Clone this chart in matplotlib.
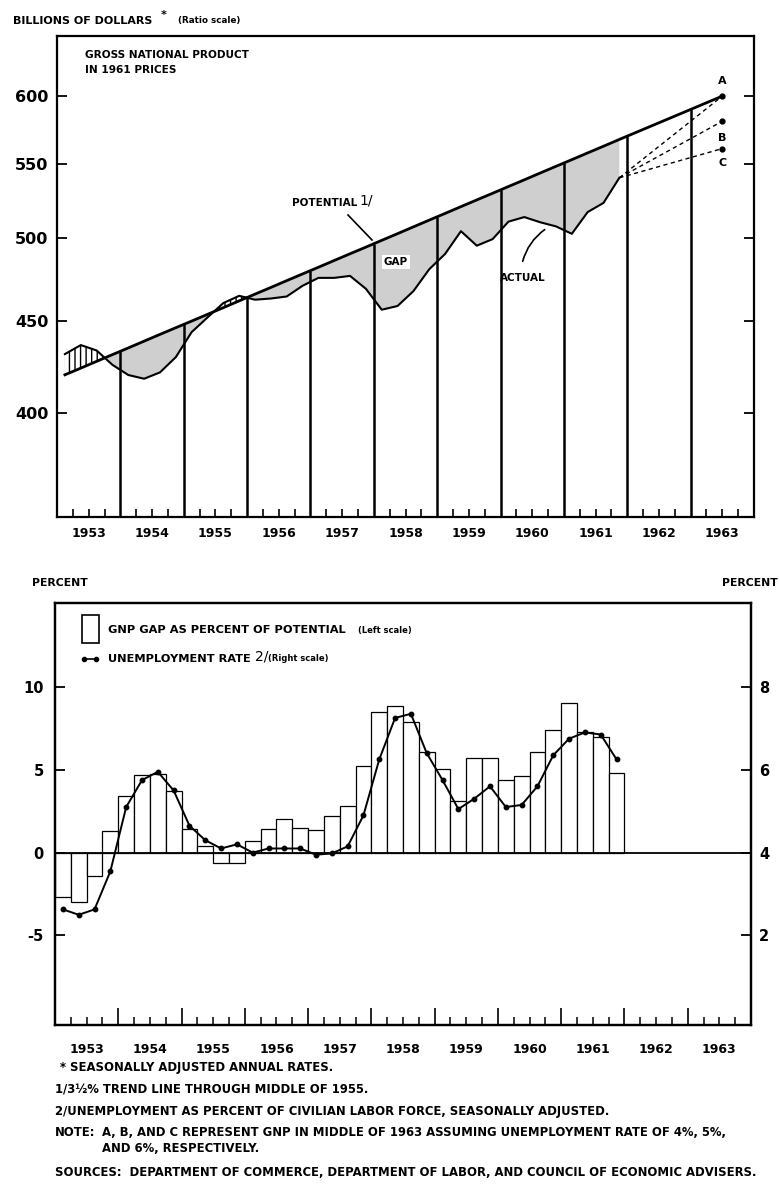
import matplotlib
matplotlib.use('Agg')
import matplotlib.pyplot as plt
import numpy as np
from matplotlib.patches import Rectangle
from matplotlib.lines import Line2D

plt.rcParams['font.family'] = ['DejaVu Sans']
plt.rcParams['font.weight'] = 'bold'
plt.rcParams['hatch.linewidth'] = 1.0
plt.rcParams['axes.unicode_minus'] = False

# ---- data (quarterly, 1953 I - 1961 IV) ----
years = list(range(1953, 1964))
quarters = np.arange(1953.125, 1962.0, 0.25)

gnp_actual = [431.2, 436.2, 433.2, 425.3, 419.8, 417.8, 421.2, 429.5,
              443.5, 451.9, 460.3, 464.6, 462.3, 463.0, 464.2, 470.6,
              475.4, 475.4, 476.6, 468.8, 456.4, 458.6, 467.4, 480.7,
              490.2, 504.7, 495.4, 499.6, 510.9, 513.9, 510.5, 507.8,
              503.0, 517.2, 523.3, 540.4]
gnp_potential = [419.9, 423.5, 427.2, 430.9, 434.6, 438.4, 442.2, 446.0,
                 449.8, 453.7, 457.6, 461.6, 465.6, 469.6, 473.7, 477.8,
                 481.9, 486.1, 490.3, 494.5, 498.8, 503.1, 507.5, 511.9,
                 516.3, 520.8, 525.3, 529.8, 534.4, 539.0, 543.7, 548.4,
                 553.1, 557.9, 562.7, 567.6]
potential_mid1963 = 600
proj_labels = ['A', 'B', 'C']
proj_values = [600, 581, 561]

gap_pct = [-2.7, -3.0, -1.4, 1.3, 3.4, 4.7, 4.75, 3.7,
           1.4, 0.4, -0.6, -0.65, 0.7, 1.4, 2.0, 1.5,
           1.35, 2.2, 2.8, 5.2, 8.5, 8.85, 7.9, 6.1,
           5.05, 3.1, 5.7, 5.7, 4.4, 4.65, 6.1, 7.4,
           9.05, 7.3, 7.0, 4.8]
unemployment = [2.63, 2.5, 2.63, 3.55, 5.1, 5.75, 5.95, 5.5,
                4.65, 4.3, 4.1, 4.2, 4.0, 4.1, 4.1, 4.1,
                3.95, 3.98, 4.15, 4.9, 6.25, 7.25, 7.35, 6.4,
                5.75, 5.05, 5.3, 5.6, 5.1, 5.15, 5.6, 6.35,
                6.75, 6.9, 6.85, 6.25]

W, H = 780, 1189
def fx(x): return x / W
def fy(y): return 1 - y / H

fig = plt.figure(figsize=(7.8, 11.89), dpi=100)

# ================= top panel =================
ax = fig.add_axes([fx(57), fy(517), 697 / W, 481 / H])
ax.set_yscale('log')
ax.set_xlim(1953, 1964)
ax.set_ylim(350, 648)

act = np.array(gnp_actual)
pot = np.array(gnp_potential)
ax.fill_between(quarters, act, pot, where=act <= pot, interpolate=True,
                facecolor='#cfcfcf', edgecolor='none')
ax.fill_between(quarters, act, pot, where=act >= pot, interpolate=True,
                facecolor='white', edgecolor='black', hatch='|||', lw=0)

pot_x = np.append(quarters, 1963.5)
pot_y = np.append(pot, potential_mid1963)
ax.plot(pot_x, pot_y, color='black', lw=2)
ax.plot(quarters, act, color='black', lw=1.5)

for yr in years[1:]:
    ax.vlines(yr, 350, np.interp(yr, pot_x, pot_y), color='black', lw=1.8)

for v in proj_values:
    ax.plot([quarters[-1], 1963.5], [act[-1], v], color='black', lw=1,
            ls=(0, (3, 2.5)))
    ax.plot(1963.5, v, 'o', color='black', ms=3.5)
ax.text(1963.5, 612, proj_labels[0], ha='center', va='center', fontsize=8)
ax.text(1963.5, 569, proj_labels[1], ha='center', va='center', fontsize=8)
ax.text(1963.5, 551, proj_labels[2], ha='center', va='center', fontsize=8)

ax.set_yticks([400, 450, 500, 550, 600])
ax.set_yticklabels(['400', '450', '500', '550', '600'])
ax.yaxis.set_minor_locator(matplotlib.ticker.NullLocator())
ax.tick_params(axis='y', which='major', direction='in', length=7, width=1.3,
               labelsize=11.5, right=True, pad=6)
ax.set_xticks([])
ax.set_xticks([y + q for y in years for q in (0.25, 0.5, 0.75)], minor=True)
ax.tick_params(axis='x', which='minor', direction='in', length=6, width=1.2,
               labelbottom=False)
for y in years:
    ax.text(y + 0.5, -0.034, str(y), transform=ax.get_xaxis_transform(),
            ha='center', va='center', fontsize=9)
for s in ax.spines.values():
    s.set_linewidth(1.6)

fig.text(fx(13), fy(21), 'BILLIONS OF DOLLARS', fontsize=8, va='center')
fig.text(fx(161), fy(15), '*', fontsize=8, va='center')
fig.text(fx(178), fy(21), '(Ratio scale)', fontsize=6.3, va='center')
fig.text(fx(85), fy(55), 'GROSS NATIONAL PRODUCT', fontsize=7.6, va='center')
fig.text(fx(85), fy(70), 'IN 1961 PRICES', fontsize=7.6, va='center')
fig.text(fx(292), fy(203), 'POTENTIAL', fontsize=7.5, va='center')
fig.text(fx(359), fy(201), '1/', fontsize=10, va='center', fontweight='normal')
fig.add_artist(Line2D([fx(348), fx(372)], [fy(215), fy(240)], color='black', lw=1.2))
fig.text(fx(396), fy(262), 'GAP', fontsize=7.5, ha='center', va='center',
         bbox=dict(facecolor='white', edgecolor='none', pad=1.5))
fig.text(fx(500), fy(278), 'ACTUAL', fontsize=7.5, va='center')
ax.annotate('', xy=(fx(547), fy(228)), xytext=(fx(522), fy(264)),
            xycoords='figure fraction', textcoords='figure fraction',
            arrowprops=dict(arrowstyle='-', color='black', lw=1.2,
                            connectionstyle='arc3,rad=-0.2'))

# ================= bottom panel =================
bx = fig.add_axes([fx(55), fy(1025), 696 / W, 422 / H])
bx.set_xlim(1953, 1964)
bx.set_ylim(-10.4, 15.06)
bx.bar(quarters, gap_pct, width=0.25, facecolor='white', edgecolor='black', lw=0.9)
bx.axhline(0, color='black', lw=1.3)

ux = bx.twinx()
ux.set_ylim(4 + 0.4 * -10.4, 4 + 0.4 * 15.06)
ux.plot(quarters, unemployment, color='black', lw=1.4, marker='o', ms=3.2)

bx.set_yticks([-5, 0, 5, 10])
bx.tick_params(axis='y', direction='in', length=7, width=1.3, labelsize=10.5, pad=8)
ux.set_yticks([2, 4, 6, 8])
ux.tick_params(axis='y', direction='in', length=7, width=1.3, labelsize=10.5, pad=6)
bx.set_xticks(years[1:])
bx.set_xticks([y + q for y in years for q in (0.25, 0.5, 0.75)], minor=True)
bx.tick_params(axis='x', which='major', direction='in', length=12, width=1.2,
               labelbottom=False)
bx.tick_params(axis='x', which='minor', direction='in', length=6, width=1.1)
for y in years:
    bx.text(y + 0.5, -0.058, str(y), transform=bx.get_xaxis_transform(),
            ha='center', va='center', fontsize=9)
for a in (bx, ux):
    for s in a.spines.values():
        s.set_linewidth(1.6)

fig.text(fx(32), fy(583), 'PERCENT', fontsize=7.8, va='center')
fig.text(fx(722), fy(583), 'PERCENT', fontsize=7.8, va='center')
fig.add_artist(Rectangle((fx(82), fy(643)), 17 / W, 28 / H, transform=fig.transFigure,
                         facecolor='white', edgecolor='black', lw=1.2))
fig.text(fx(108), fy(630), 'GNP GAP AS PERCENT OF POTENTIAL', fontsize=8.2, va='center')
fig.text(fx(358), fy(630), '(Left scale)', fontsize=6, va='center')
fig.add_artist(Line2D([fx(84), fx(96)], [fy(659), fy(659)], color='black', lw=1.2,
                      marker='o', ms=3))
fig.text(fx(108), fy(659), 'UNEMPLOYMENT RATE', fontsize=8.2, va='center')
fig.text(fx(255), fy(657), '2/', fontsize=10, va='center', fontweight='normal')
fig.text(fx(268), fy(659), '(Right scale)', fontsize=6, va='center')

# ================= footnotes =================
fn = 8.4
fig.text(fx(60), fy(1068), '* SEASONALLY ADJUSTED ANNUAL RATES.', fontsize=fn, va='center')
fig.text(fx(55), fy(1090), '1/3½% TREND LINE THROUGH MIDDLE OF 1955.', fontsize=fn, va='center')
fig.text(fx(55), fy(1111), '2/UNEMPLOYMENT AS PERCENT OF CIVILIAN LABOR FORCE, SEASONALLY ADJUSTED.',
         fontsize=fn, va='center')
fig.text(fx(55), fy(1132), 'NOTE:', fontsize=fn, va='center')
fig.text(fx(102), fy(1132), 'A, B, AND C REPRESENT GNP IN MIDDLE OF 1963 ASSUMING UNEMPLOYMENT RATE OF 4%, 5%,',
         fontsize=fn, va='center')
fig.text(fx(102), fy(1149), 'AND 6%, RESPECTIVELY.', fontsize=fn, va='center')
fig.text(fx(55), fy(1172), 'SOURCES:  DEPARTMENT OF COMMERCE, DEPARTMENT OF LABOR, AND COUNCIL OF ECONOMIC ADVISERS.',
         fontsize=fn, va='center')

fig.savefig('out.png', dpi=100)
